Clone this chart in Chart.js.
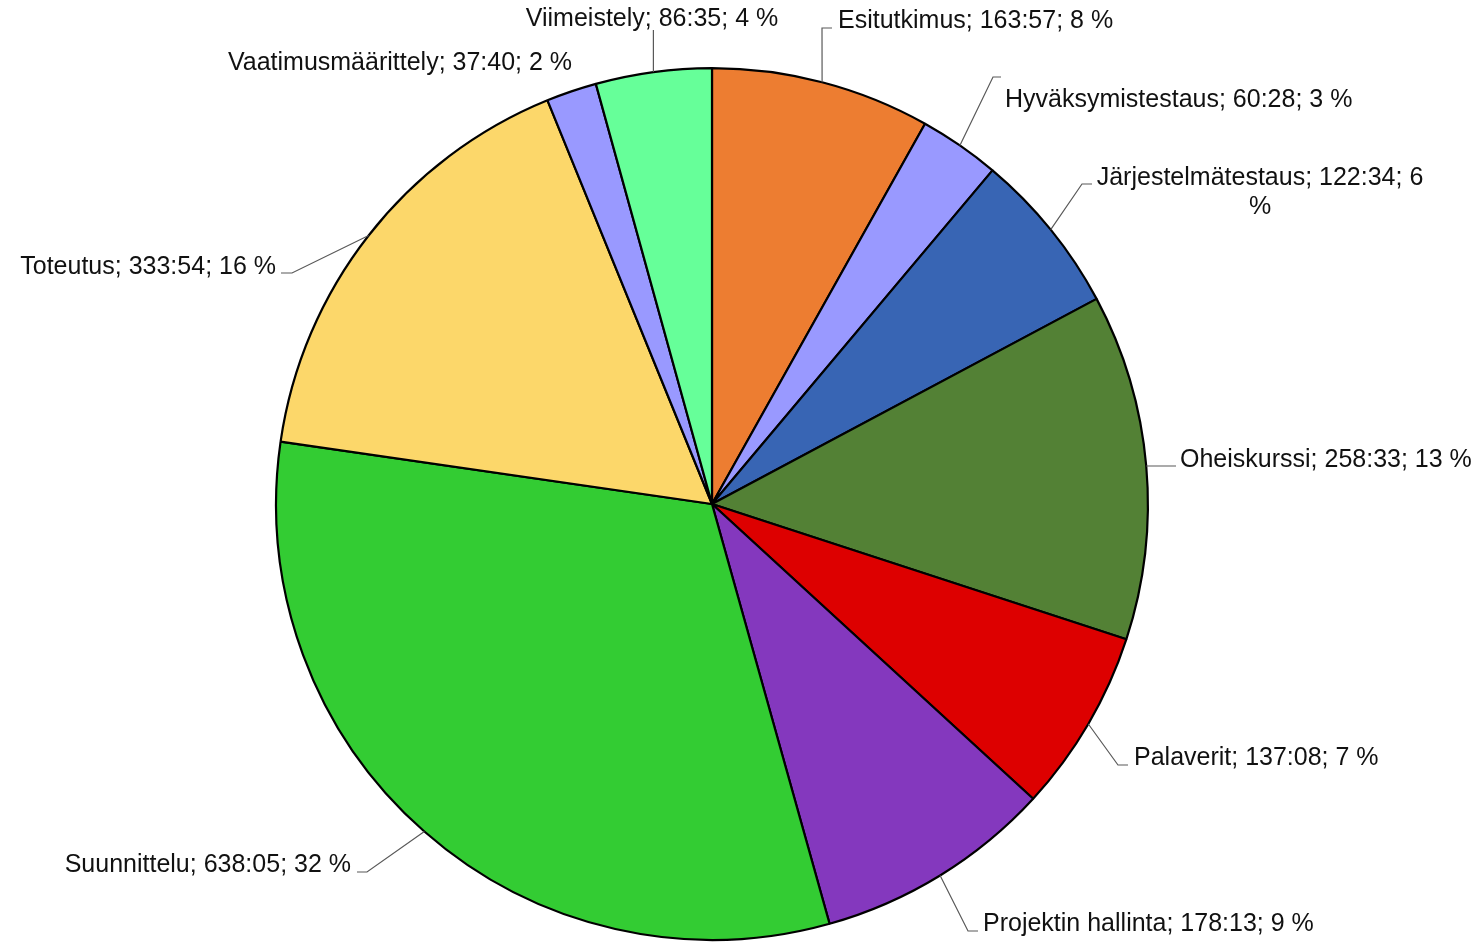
<!DOCTYPE html>
<html>
<head>
<meta charset="utf-8">
<script src="https://cdn.jsdelivr.net/npm/chart.js@4/dist/chart.umd.min.js"></script>
<style>
  html, body { margin: 0; padding: 0; background: #fff; }
  #wrap { width: 1481px; height: 942px; position: relative; }
</style>
</head>
<body>
<div id="wrap"><canvas id="pieChart"></canvas></div>
<script>
// Data (time spent per phase, minutes; labels as shown)
const phases = ['Esitutkimus', 'Hyväksymistestaus', 'Järjestelmätestaus', 'Oheiskurssi', 'Palaverit',
    'Projektin hallinta', 'Suunnittelu', 'Toteutus', 'Vaatimusmäärittely', 'Viimeistely'];
const minutes = [9837, 3628, 7354, 15513, 8228, 10693, 38285, 20034, 2260, 5195];
const durations = ['163:57', '60:28', '122:34', '258:33', '137:08', '178:13', '638:05', '333:54', '37:40', '86:35'];
const percents = ['8 %', '3 %', '6 %', '13 %', '7 %', '9 %', '32 %', '16 %', '2 %', '4 %'];

const colors = ['#ED7D31', '#9999FF', '#3865B4', '#538135', '#DD0000',
    '#8438BE', '#33CC33', '#FCD76A', '#9999FF', '#66FF99'];

// label placement (text position + leader line bend)
const labelLayout = [
    { x: 838, y: 21, align: 'left', elbow: [822, 28], end: [832, 28] },
    { x: 1005, y: 100, align: 'left', elbow: [993, 77], end: [1001, 77] },
    { x: 1260, y: 178, align: 'center', elbow: [1082, 184], end: [1092, 184], wrap: true },
    { x: 1180, y: 460, align: 'left', elbow: null, end: [1176, 466] },
    { x: 1134, y: 758, align: 'left', elbow: [1118, 765], end: [1128, 765] },
    { x: 983, y: 924, align: 'left', elbow: [968, 931], end: [978, 931] },
    { x: 351, y: 865, align: 'right', elbow: [367, 872], end: [357, 872] },
    { x: 276, y: 267, align: 'right', elbow: [292, 273], end: [281, 273] },
    { x: 400, y: 63, align: 'center', elbow: null, end: null },
    { x: 652, y: 19, align: 'center', elbow: null, end: 'up30' }
];

const outsideLabels = {
    id: 'outsideLabels',
    afterDatasetsDraw(chart) {
        const ctx = chart.ctx;
        const arcs = chart.getDatasetMeta(0).data;
        ctx.save();
        ctx.font = '25px "Liberation Sans", Arial, sans-serif';
        ctx.fillStyle = '#111';
        ctx.textBaseline = 'middle';
        arcs.forEach((arc, i) => {
            const L = labelLayout[i];
            const mid = (arc.startAngle + arc.endAngle) / 2;
            const ax = arc.x + Math.cos(mid) * arc.outerRadius;
            const ay = arc.y + Math.sin(mid) * arc.outerRadius;

            // leader line
            if (L.end) {
                ctx.strokeStyle = '#595959';
                ctx.lineWidth = 1.2;
                ctx.beginPath();
                ctx.moveTo(ax, ay);
                if (L.end === 'up30') {
                    ctx.lineTo(ax, 30);
                } else {
                    if (L.elbow) ctx.lineTo(L.elbow[0], L.elbow[1]);
                    ctx.lineTo(L.end[0], L.end[1]);
                }
                ctx.stroke();
            }

            // text
            const txt = `${phases[i]}; ${durations[i]}; ${percents[i]}`;
            if (L.wrap) {
                const parts = txt.split(' ');
                const last = parts.pop();
                ctx.textAlign = 'center';
                ctx.fillText(parts.join(' '), L.x, L.y);
                ctx.fillText(last, L.x, L.y + 29);
            } else {
                ctx.textAlign = L.align;
                ctx.fillText(txt, L.x, L.y);
            }
        });
        ctx.restore();
    }
};

new Chart(document.getElementById('pieChart'), {
    type: 'pie',
    data: {
        labels: phases,
        datasets: [{
            data: minutes,
            backgroundColor: colors,
            borderColor: '#000000',
            borderWidth: 2.2
        }]
    },
    options: {
        responsive: true,
        maintainAspectRatio: false,
        animation: false,
        layout: { padding: { top: 67, bottom: 1, left: 0, right: 57 } },
        plugins: {
            legend: { display: false },
            tooltip: { enabled: false }
        }
    },
    plugins: [outsideLabels]
});
</script>
</body>
</html>
